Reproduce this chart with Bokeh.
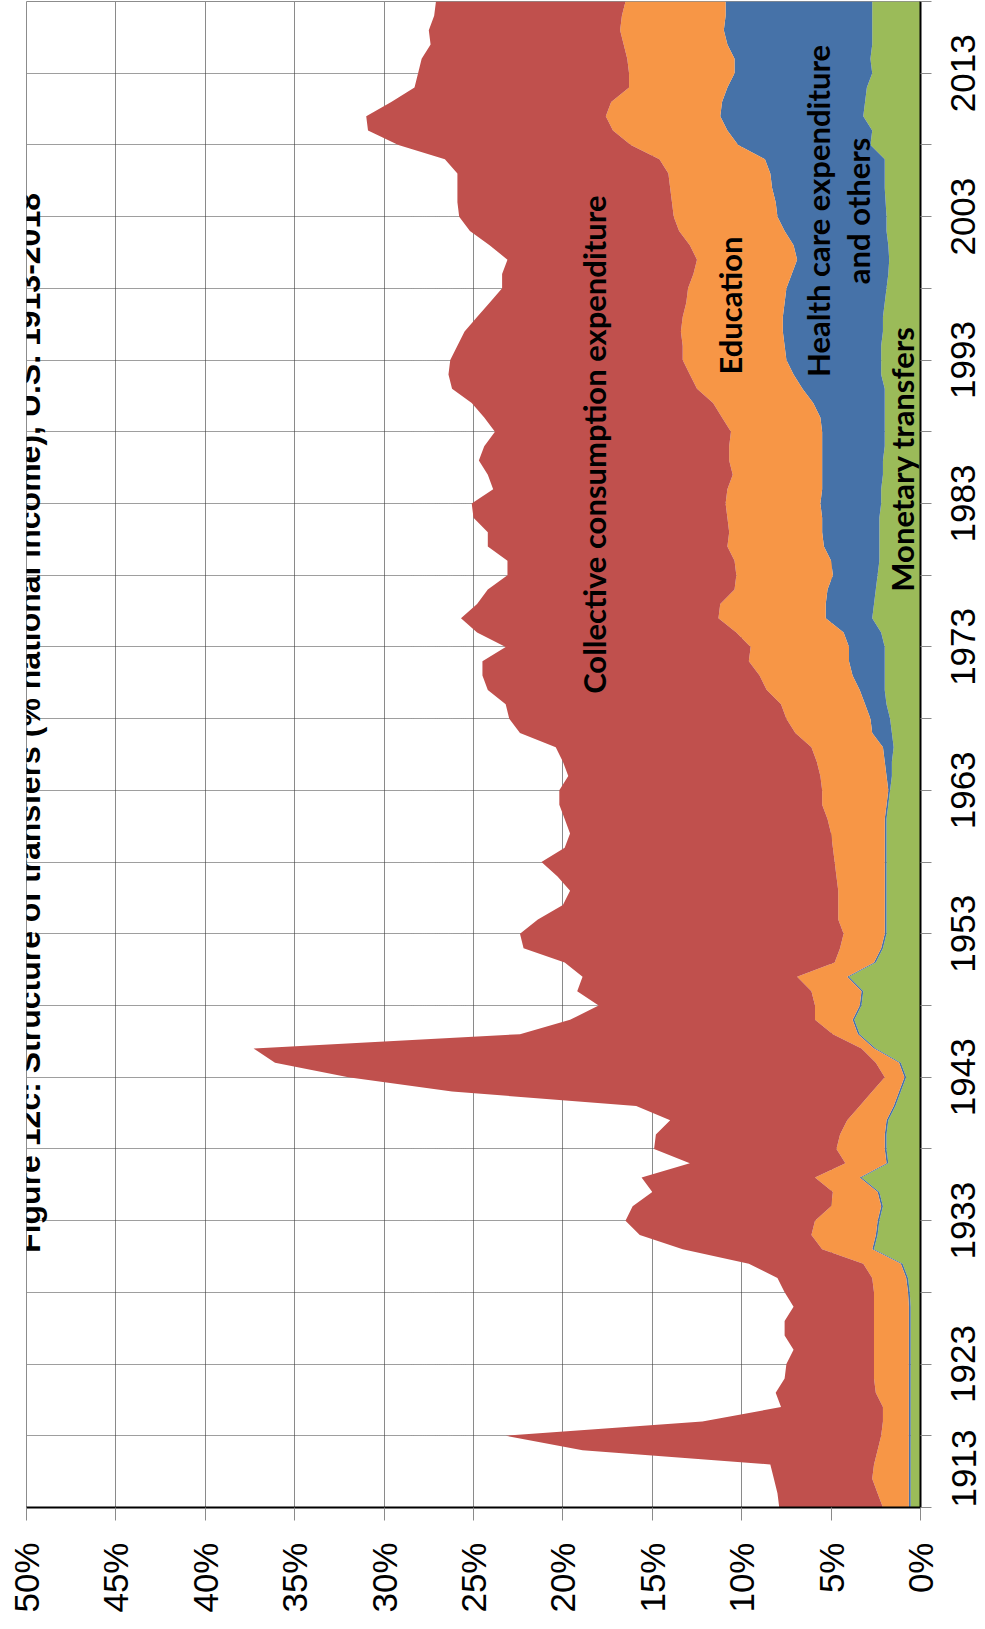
import numpy as np
from math import pi
from bokeh.plotting import figure
from bokeh.models import Range1d, FixedTicker, Label, PrintfTickFormatter, LinearAxis
from bokeh.embed import file_html
from bokeh.resources import INLINE

# ---------------- data (% of national income) ----------------
years = list(range(1913, 2019))

monetary = [0.55, 0.55, 0.55, 0.55, 0.55, 0.55, 0.55, 0.55, 0.55, 0.55,
            0.55, 0.55, 0.55, 0.55, 0.55, 0.60, 0.70, 1.00, 2.60, 2.40,
            2.30, 2.10, 2.30, 3.30, 1.80, 1.90, 1.90, 1.80, 1.40, 1.10,
            0.80, 1.10, 2.50, 3.40, 3.70, 3.30, 3.20, 4.00, 2.50, 2.10,
            1.90, 1.90, 1.90, 1.90, 1.90, 1.90, 1.90, 1.90, 1.90, 1.80,
            1.70, 1.60, 1.60, 1.50, 1.60, 1.70, 1.90, 2.00, 2.00, 2.00,
            2.00, 2.20, 2.70, 2.60, 2.50, 2.40, 2.30, 2.30, 2.30, 2.30,
            2.20, 2.20, 2.10, 2.10, 2.00, 2.00, 2.00, 2.00, 2.00, 2.20,
            2.20, 2.20, 2.10, 2.10, 2.00, 1.90, 1.80, 1.75, 1.80, 1.90,
            1.90, 1.95, 2.00, 2.00, 2.00, 2.80, 2.70, 3.20, 3.10, 3.00,
            2.70, 2.80, 2.70, 2.70, 2.70, 2.70]

health = [0.10, 0.10, 0.10, 0.10, 0.10, 0.10, 0.10, 0.10, 0.10, 0.10,
          0.10, 0.10, 0.10, 0.10, 0.10, 0.10, 0.10, 0.10, 0.10, 0.10,
          0.10, 0.10, 0.10, 0.10, 0.10, 0.10, 0.10, 0.10, 0.10, 0.10,
          0.10, 0.10, 0.10, 0.10, 0.10, 0.10, 0.10, 0.10, 0.10, 0.10,
          0.10, 0.10, 0.10, 0.10, 0.10, 0.10, 0.10, 0.10, 0.10, 0.10,
          0.10, 0.30, 0.40, 0.60, 1.10, 1.10, 1.20, 1.40, 1.80, 2.00,
          2.00, 2.10, 2.60, 2.70, 2.70, 2.50, 2.70, 3.10, 3.20, 3.20,
          3.40, 3.30, 3.40, 3.40, 3.50, 3.50, 3.60, 4.00, 4.60, 4.90,
          5.30, 5.40, 5.60, 5.60, 5.60, 5.60, 5.40, 5.15, 5.30, 5.70,
          6.10, 6.15, 6.30, 6.40, 6.70, 7.40, 8.10, 8.00, 8.00, 7.80,
          7.70, 7.60, 8.10, 8.30, 8.20, 8.20]

education = [1.45, 1.75, 2.05, 1.95, 1.75, 1.55, 1.45, 1.45, 1.85, 1.95,
             1.95, 1.95, 1.95, 1.95, 1.95, 1.90, 1.90, 2.10, 2.80, 3.60,
             3.50, 2.80, 2.50, 2.50, 2.30, 2.70, 2.50, 2.20, 1.90, 1.50,
             1.10, 1.30, 0.70, 1.40, 2.10, 2.50, 2.80, 2.80, 2.20, 2.30,
             2.30, 2.60, 2.60, 2.60, 2.70, 2.80, 2.90, 3.00, 3.20, 3.60,
             3.70, 3.70, 3.80, 4.00, 4.30, 4.70, 4.70, 5.20, 5.20, 5.60,
             5.50, 6.00, 6.00, 5.90, 5.20, 5.40, 5.40, 5.40, 5.20, 5.30,
             5.30, 5.30, 5.00, 5.20, 5.20, 5.10, 5.50, 5.60, 5.90, 5.80,
             5.80, 5.70, 5.70, 5.60, 5.50, 5.50, 5.50, 5.60, 5.80, 5.90,
             5.80, 5.80, 5.70, 5.70, 5.90, 6.00, 6.40, 6.40, 6.20, 5.50,
             5.90, 6.00, 5.80, 5.80, 5.80, 5.60]

collective = [5.8, 5.6, 5.5, 5.8, 16.5, 21.0, 10.1, 5.7, 5.6, 5.0,
              4.9, 4.5, 5.0, 5.0, 4.5, 5.0, 5.3, 6.4, 7.8, 9.6,
              10.6, 11.1, 10.1, 9.7, 8.7, 10.2, 10.3, 9.9, 12.5, 23.5,
              30.0, 33.6, 34.0, 17.5, 13.7, 12.1, 13.1, 12.0, 15.1, 17.7,
              18.1, 16.8, 15.4, 15.0, 15.6, 16.4, 15.0, 14.6, 14.7, 14.7,
              14.7, 14.1, 14.2, 14.3, 15.4, 15.5, 15.4, 15.6, 15.5, 14.9,
              13.7, 14.5, 14.4, 13.6, 13.8, 12.8, 12.7, 13.4, 13.5, 14.2,
              14.2, 13.1, 13.7, 14.0, 13.7, 13.2, 13.3, 13.5, 13.7, 13.5,
              13.0, 12.6, 12.1, 11.5, 11.0, 10.4, 10.7, 10.6, 11.2, 11.7,
              12.0, 12.0, 11.9, 11.8, 12.0, 13.0, 13.7, 13.4, 12.3, 12.0,
              11.8, 11.5, 10.8, 10.7, 10.5, 10.6]

series_names = ["Monetary transfers", "Health care expenditure", "Education",
                "Collective consumption expenditure"]
series_colors = ["#9BBB59", "#4672A8", "#F79646", "#C0504D"]

pct_ticks = list(range(0, 55, 5))
year_ticks = list(range(1913, 2019, 5))          # tick marks / grid lines
year_labels = list(range(1913, 2019, 10))        # labelled years

title_text = "Figure 12c: Structure of transfers (% national income), U.S. 1913-2018"

# ---------------- figure ----------------
Y0, Y1 = 1913, 2018
p = figure(frame_width=894, frame_height=1506,
           x_range=Range1d(50, 0), y_range=Range1d(Y0, Y1),
           x_axis_location="below", y_axis_location="right",
           output_backend="svg", toolbar_location=None,
           min_border_left=26, min_border_top=1,
           min_border_right=0, min_border_bottom=0,
           background_fill_color="white", border_fill_color="white")
p.title.visible = False
p.outline_line_color = "#8c8c8c"
p.outline_line_width = 1

# stacked horizontal areas
stack = np.cumsum(np.array([monetary, health, education, collective]), axis=0)
lower = np.vstack([np.zeros(len(years)), stack[:-1]])
for i, col in enumerate(series_colors):
    p.harea(y=years, x1=lower[i], x2=stack[i], fill_color=col, fill_alpha=1.0)

# grids
p.xgrid.ticker = FixedTicker(ticks=pct_ticks)
p.xgrid.grid_line_color = "#8a8a8a"
p.xgrid.grid_line_width = 1
p.ygrid.ticker = FixedTicker(ticks=year_ticks)
p.ygrid.grid_line_color = "#3c3c3c"
p.ygrid.grid_line_width = 1
p.ygrid.grid_line_dash = "1 1"

# percent axis (bottom)
xa = p.xaxis[0]
xa.ticker = FixedTicker(ticks=pct_ticks)
xa.formatter = PrintfTickFormatter(format="%d%%")
xa.major_label_orientation = pi / 2
xa.major_label_text_font = "Liberation Sans"
xa.major_label_text_font_size = "35px"
xa.major_label_text_color = "black"
xa.major_label_standoff = 22
xa.major_tick_out = 13
xa.major_tick_in = 0
xa.minor_tick_out = 0
xa.minor_tick_in = 0
xa.major_tick_line_color = "#8a8a8a"
xa.axis_line_color = "black"
xa.axis_line_width = 2

# year axis (right): tick marks + axis line
ya = p.yaxis[0]
ya.ticker = FixedTicker(ticks=year_ticks)
ya.major_label_overrides = {y: "" for y in year_ticks}
ya.major_label_text_font_size = "1px"
ya.major_label_standoff = 0
ya.major_tick_out = 11
ya.major_tick_in = 0
ya.minor_tick_out = 0
ya.minor_tick_in = 0
ya.major_tick_line_color = "#8a8a8a"
ya.axis_line_color = "black"
ya.axis_line_width = 2

# year axis (right): rotated labels, centred on their ticks
label_font_px = 35
half_len_years = 0.5 * 2.224 * label_font_px / (1506 / (Y1 - Y0))
label_pos = [max(Y0, y - half_len_years) for y in year_labels]
yl = LinearAxis(ticker=FixedTicker(ticks=label_pos),
                major_label_overrides={pos: str(y) for pos, y in zip(label_pos, year_labels)},
                major_label_orientation=pi / 2,
                major_label_text_font="Liberation Sans",
                major_label_text_font_size=f"{label_font_px}px",
                major_label_text_color="black",
                major_label_standoff=32,
                major_tick_out=0, major_tick_in=0,
                minor_tick_out=0, minor_tick_in=0,
                major_tick_line_color=None, minor_tick_line_color=None,
                axis_line_color=None)
p.add_layout(yl, "right")

# in-plot series labels
lab_font = "Lato"
lab_size = "31px"
def add_label(x, y, txt):
    p.add_layout(Label(x=x, y=y, text=txt, angle=pi / 2, angle_units="rad",
                       text_font=lab_font, text_font_size=lab_size,
                       text_font_style="bold", text_color="black",
                       text_align="center", text_baseline="middle"))

add_label(18.25, 1987.1, series_names[3])
add_label(10.65, 1996.8, series_names[2])
add_label(5.75, 2003.4, series_names[1])
add_label(3.5, 2003.4, "and others")
add_label(1.05, 1986.1, series_names[0])

# title (rotated, at the left edge, partly cut as in the source image)
p.add_layout(Label(x=49.85, y=1967.7, text=title_text, angle=pi / 2, angle_units="rad",
                   text_font="Liberation Sans", text_font_size="32px",
                   text_font_style="bold", text_color="black",
                   text_align="center", text_baseline="alphabetic"))

open("out.html", "w").write(file_html(p, INLINE))
